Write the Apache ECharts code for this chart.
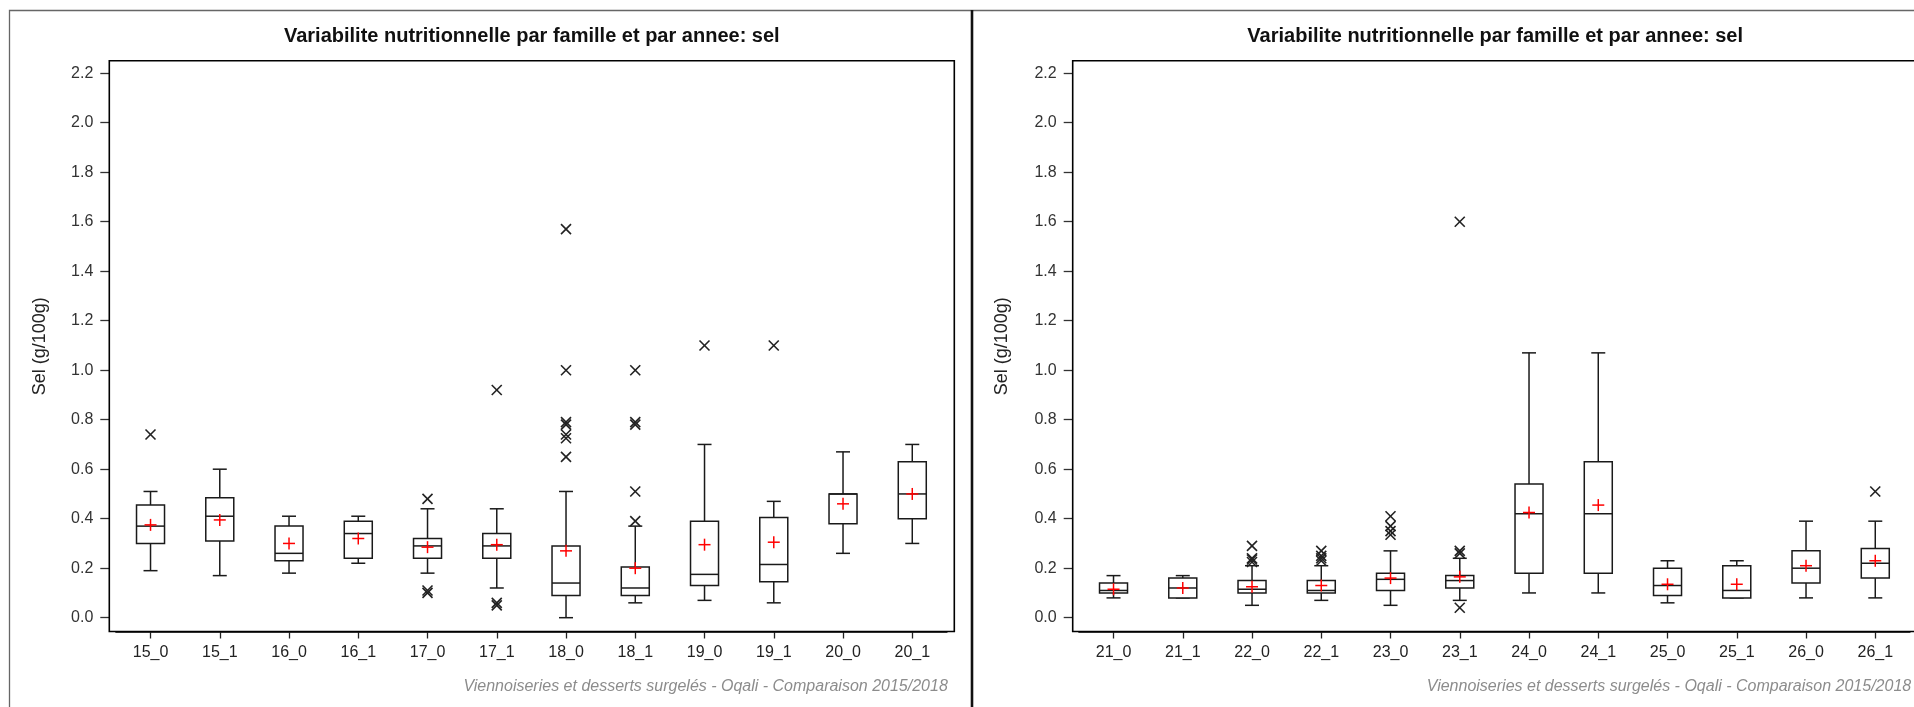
<!DOCTYPE html>
<html>
<head>
<meta charset="utf-8">
<script src="https://cdn.jsdelivr.net/npm/echarts@6/dist/echarts.min.js"></script>
<style>
html,body{margin:0;padding:0;background:#fff;}
#chart{width:1914px;height:707px;}
</style>
</head>
<body>
<div id="chart"></div>
<script>
// ---------- texts ----------
const titleText = 'Variabilite nutritionnelle par famille et par annee: sel';
const yAxisName = 'Sel (g/100g)';
const footnoteText = 'Viennoiseries et desserts surgelés - Oqali - Comparaison 2015/2018';
const yTickValues = [0, 0.2, 0.4, 0.6, 0.8, 1.0, 1.2, 1.4, 1.6, 1.8, 2.0, 2.2];

// ---------- left panel data ----------
const leftCategories = ['15_0','15_1','16_0','16_1','17_0','17_1','18_0','18_1','19_0','19_1','20_0','20_1'];
const leftLow    = [0.19, 0.17, 0.18, 0.22, 0.18, 0.12, 0.00, 0.06, 0.07, 0.06, 0.26, 0.30];
const leftQ1     = [0.30, 0.31, 0.23, 0.24, 0.24, 0.24, 0.09, 0.09, 0.13, 0.145, 0.38, 0.40];
const leftMedian = [0.37, 0.41, 0.26, 0.34, 0.29, 0.29, 0.14, 0.12, 0.175, 0.215, 0.50, 0.50];
const leftQ3     = [0.455, 0.485, 0.37, 0.39, 0.32, 0.34, 0.29, 0.205, 0.39, 0.405, 0.50, 0.63];
const leftHigh   = [0.51, 0.60, 0.41, 0.41, 0.44, 0.44, 0.51, 0.37, 0.70, 0.47, 0.67, 0.70];
const leftMean   = [0.375, 0.395, 0.30, 0.32, 0.285, 0.295, 0.27, 0.20, 0.295, 0.305, 0.46, 0.50];
const leftOutliers = [
  ['15_0', 0.74],
  ['17_0', 0.48], ['17_0', 0.11], ['17_0', 0.10],
  ['17_1', 0.92], ['17_1', 0.06], ['17_1', 0.05],
  ['18_0', 1.57], ['18_0', 1.00], ['18_0', 0.79], ['18_0', 0.78], ['18_0', 0.74], ['18_0', 0.725], ['18_0', 0.65],
  ['18_1', 1.00], ['18_1', 0.79], ['18_1', 0.78], ['18_1', 0.51], ['18_1', 0.39],
  ['19_0', 1.10],
  ['19_1', 1.10]
];

// ---------- right panel data ----------
const rightCategories = ['21_0','21_1','22_0','22_1','23_0','23_1','24_0','24_1','25_0','25_1','26_0','26_1'];
const rightLow    = [0.08, 0.08, 0.05, 0.07, 0.05, 0.07, 0.10, 0.10, 0.06, 0.08, 0.08, 0.08];
const rightQ1     = [0.10, 0.08, 0.10, 0.10, 0.11, 0.12, 0.18, 0.18, 0.09, 0.08, 0.14, 0.16];
const rightMedian = [0.11, 0.12, 0.115, 0.11, 0.155, 0.15, 0.42, 0.42, 0.13, 0.11, 0.20, 0.22];
const rightQ3     = [0.14, 0.16, 0.15, 0.15, 0.18, 0.17, 0.54, 0.63, 0.20, 0.21, 0.27, 0.28];
const rightHigh   = [0.17, 0.17, 0.21, 0.21, 0.27, 0.24, 1.07, 1.07, 0.23, 0.23, 0.39, 0.39];
const rightMean   = [0.115, 0.12, 0.125, 0.13, 0.16, 0.165, 0.425, 0.455, 0.135, 0.135, 0.21, 0.23];
const rightOutliers = [
  ['22_0', 0.29], ['22_0', 0.24], ['22_0', 0.235], ['22_0', 0.225],
  ['22_1', 0.27], ['22_1', 0.25], ['22_1', 0.24], ['22_1', 0.23],
  ['23_0', 0.41], ['23_0', 0.37], ['23_0', 0.35], ['23_0', 0.335],
  ['23_1', 1.60], ['23_1', 0.27], ['23_1', 0.26], ['23_1', 0.04],
  ['26_1', 0.51]
];

// ---------- helpers ----------
const FONT = '"Liberation Sans", Arial, sans-serif';
function statRows(cats, low, q1, med, q3, high, mean) {
  return cats.map((c, i) => [i, low[i], q1[i], med[i], q3[i], high[i], mean[i]]);
}
function outlierRows(cats, outs) {
  return outs.map(o => [cats.indexOf(o[0]), o[1]]);
}
const BOX_HALF = 14, CAP_HALF = 7, PLUS_HALF = 6, X_HALF = 5;
const lineStyle = {stroke: '#1a1a1a', lineWidth: 1.5, fill: null};

function renderBox(params, api) {
  const x = api.value(0);
  const p = k => api.coord([x, api.value(k)]);
  const low = p(1), q1 = p(2), med = p(3), q3 = p(4), high = p(5), mean = p(6);
  const cx = low[0];
  const L = (x1, y1, x2, y2, st) => ({type: 'line', shape: {x1, y1, x2, y2}, style: st || lineStyle});
  const red = {stroke: '#ff0000', lineWidth: 1.5};
  return {
    type: 'group',
    children: [
      L(cx, high[1], cx, q3[1]),
      L(cx, q1[1], cx, low[1]),
      L(cx - CAP_HALF, high[1], cx + CAP_HALF, high[1]),
      L(cx - CAP_HALF, low[1], cx + CAP_HALF, low[1]),
      {type: 'rect', shape: {x: cx - BOX_HALF, y: q3[1], width: 2 * BOX_HALF, height: Math.max(q1[1] - q3[1], 0.5)},
       style: {fill: '#fff', stroke: '#1a1a1a', lineWidth: 1.5}},
      L(cx - BOX_HALF, med[1], cx + BOX_HALF, med[1]),
      L(cx - PLUS_HALF, mean[1], cx + PLUS_HALF, mean[1], red),
      L(cx, mean[1] - PLUS_HALF, cx, mean[1] + PLUS_HALF, red)
    ]
  };
}
function renderCross(params, api) {
  const c = api.coord([api.value(0), api.value(1)]);
  const st = {stroke: '#222', lineWidth: 1.6};
  return {
    type: 'group',
    children: [
      {type: 'line', shape: {x1: c[0] - X_HALF, y1: c[1] - X_HALF, x2: c[0] + X_HALF, y2: c[1] + X_HALF}, style: st},
      {type: 'line', shape: {x1: c[0] - X_HALF, y1: c[1] + X_HALF, x2: c[0] + X_HALF, y2: c[1] - X_HALF}, style: st}
    ]
  };
}

// ---------- layout ----------
const GRID_TOP = 61, GRID_H = 570.5, BAND_W = 831;
const panels = [
  {gridLeft: 115.9, frameLeft: 109.3, border: 9.5, cats: leftCategories,
   stats: statRows(leftCategories, leftLow, leftQ1, leftMedian, leftQ3, leftHigh, leftMean),
   outs: outlierRows(leftCategories, leftOutliers)},
  {gridLeft: 1078.9, frameLeft: 1072.7, border: 972, cats: rightCategories,
   stats: statRows(rightCategories, rightLow, rightQ1, rightMedian, rightQ3, rightHigh, rightMean),
   outs: outlierRows(rightCategories, rightOutliers)}
];
const FRAME_W = 845;

const grids = [], xAxes = [], yAxes = [], series = [], graphics = [];

graphics.push({type: 'rect', z: 100, shape: {x: 9.5, y: 10.5, width: 1960, height: 760},
  style: {fill: 'none', stroke: '#666', lineWidth: 1.3}});
graphics.push({type: 'line', z: 100, shape: {x1: 972, y1: 10, x2: 972, y2: 707},
  style: {stroke: '#111', lineWidth: 2.6}});

panels.forEach((pn, gi) => {
  grids.push({left: pn.gridLeft, top: GRID_TOP, width: BAND_W, height: GRID_H, containLabel: false});
  xAxes.push({
    type: 'category', gridIndex: gi, data: pn.cats, boundaryGap: true,
    axisLine: {show: true, onZero: false, lineStyle: {color: '#000', width: 1.6}},
    axisTick: {show: true, alignWithLabel: true, length: 7, lineStyle: {color: '#222', width: 1.3}},
    axisLabel: {color: '#222', fontSize: 16, fontFamily: FONT, margin: 13},
    splitLine: {show: false}
  });
  yAxes.push({
    type: 'value', gridIndex: gi, position: 'left', min: -0.0558, max: 2.2493,
    offset: pn.gridLeft - pn.frameLeft,
    axisLine: {show: false},
    axisTick: {show: true, length: 9, customValues: yTickValues, lineStyle: {color: '#333', width: 1.3}},
    axisLabel: {show: true, customValues: yTickValues, formatter: v => Number(v).toFixed(1),
      color: '#333', fontSize: 16, fontFamily: FONT, margin: 16},
    splitLine: {show: false}
  });
  series.push({
    type: 'custom', xAxisIndex: gi, yAxisIndex: gi, renderItem: renderBox,
    data: pn.stats, encode: {x: 0, y: [1, 2, 3, 4, 5, 6]}, z: 3
  });
  series.push({
    type: 'custom', xAxisIndex: gi, yAxisIndex: gi, renderItem: renderCross,
    data: pn.outs, encode: {x: 0, y: 1}, z: 4
  });
  // plot frame
  graphics.push({type: 'rect', z: 100,
    shape: {x: pn.frameLeft, y: 60.7, width: FRAME_W, height: GRID_TOP + GRID_H - 60.7},
    style: {fill: 'none', stroke: '#000', lineWidth: 1.6}});
  const cx = pn.frameLeft + FRAME_W / 2;
  graphics.push({type: 'text', z: 100, x: cx, y: 36.6,
    style: {text: titleText, font: 'bold 20px ' + FONT, fill: '#111',
      textAlign: 'center', textVerticalAlign: 'middle', align: 'center', verticalAlign: 'middle'}});
  graphics.push({type: 'text', z: 100, x: pn.border + 30.5, y: GRID_TOP + GRID_H / 2, rotation: Math.PI / 2,
    style: {text: yAxisName, font: '18px ' + FONT, fill: '#222',
      textAlign: 'center', textVerticalAlign: 'middle', align: 'center', verticalAlign: 'middle'}});
  graphics.push({type: 'text', z: 100, x: pn.frameLeft + FRAME_W - 6.5, y: 687,
    style: {text: footnoteText, font: 'italic 16px ' + FONT, fill: '#8c8c8c',
      textAlign: 'right', textVerticalAlign: 'middle', align: 'right', verticalAlign: 'middle'}});
});

const chart = echarts.init(document.getElementById('chart'), null, {renderer: 'canvas'});
chart.setOption({
  backgroundColor: '#fff',
  animation: false,
  grid: grids,
  xAxis: xAxes,
  yAxis: yAxes,
  series: series,
  graphic: {elements: graphics}
});
</script>
</body>
</html>
